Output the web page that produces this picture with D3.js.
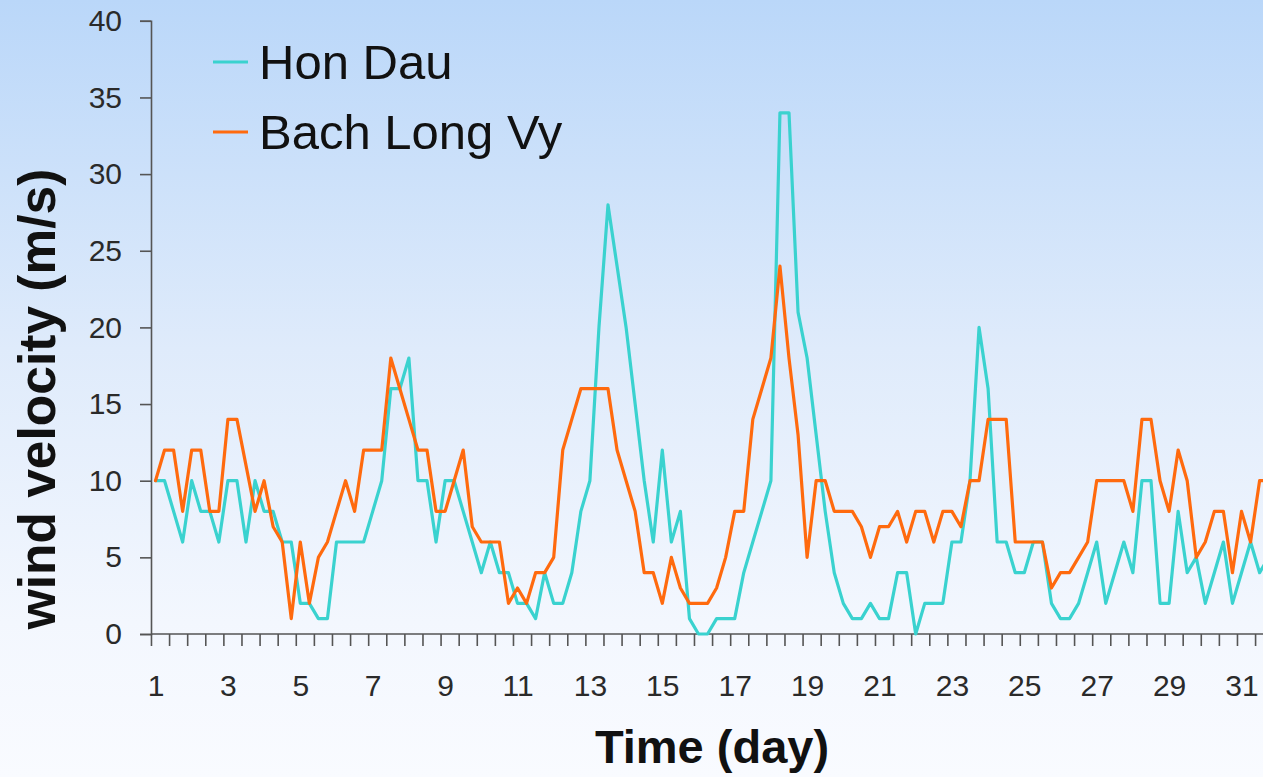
<!DOCTYPE html>
<html>
<head>
<meta charset="utf-8">
<script src="https://cdn.jsdelivr.net/npm/d3@7"></script>
<style>
  html, body { margin: 0; padding: 0; background: #ffffff; }
  svg { display: block; }
  text { font-family: "Liberation Sans", Arial, sans-serif; }
</style>
</head>
<body>
<svg id="chart" width="1263" height="777"></svg>
<script>
// ---- data (6-hourly samples, 4 per day, starting day 1) ----
const seriesNames = ["Hon Dau", "Bach Long Vy"];
const seriesColors = ["#3ad2cf", "#ff6a0e"];

const honDau = [
  10,10,8,6, 10,8,8,6, 10,10,6,10, 8,8,6,6,
  2,2,1,1, 6,6,6,6, 8,10,16,16, 18,10,10,6,
  10,10,8,6, 4,6,4,4, 2,2,1,4, 2,2,4,8,
  10,20,28,24, 20,15,10,6, 12,6,8,1, 0,0,1,1,
  1,4,6,8, 10,34,34,21, 18,13,8,4, 2,1,1,2,
  1,1,4,4, 0,2,2,2, 6,6,10,20, 16,6,6,4,
  4,6,6,2, 1,1,2,4, 6,2,4,6, 4,10,10,2,
  2,8,4,5, 2,4,6,2, 4,6,4,5
];

const bachLongVy = [
  10,12,12,8, 12,12,8,8, 14,14,11,8, 10,7,6,1,
  6,2,5,6, 8,10,8,12, 12,12,18,16, 14,12,12,8,
  8,10,12,7, 6,6,6,2, 3,2,4,4, 5,12,14,16,
  16,16,16,12, 10,8,4,4, 2,5,3,2, 2,2,3,5,
  8,8,14,16, 18,24,18,13, 5,10,10,8, 8,8,7,5,
  7,7,8,6, 8,8,6,8, 8,7,10,10, 14,14,14,6,
  6,6,6,3, 4,4,5,6, 10,10,10,10, 8,14,14,10,
  8,12,10,5, 6,8,8,4, 8,6,10,10
];

const xTickLabels = [1,3,5,7,9,11,13,15,17,19,21,23,25,27,29,31];
const yTickValues = [0,5,10,15,20,25,30,35,40];
const samplesPerDay = 4;

// ---- layout ----
const W = 1263, H = 777;
const svg = d3.select("#chart");

const defs = svg.append("defs");
const grad = defs.append("linearGradient").attr("id", "bg")
  .attr("x1", 0).attr("y1", 0).attr("x2", 0).attr("y2", 1);
grad.append("stop").attr("offset", "0%").attr("stop-color", "#bad7f9");
grad.append("stop").attr("offset", "45%").attr("stop-color", "#dfebfb");
grad.append("stop").attr("offset", "80%").attr("stop-color", "#f3f7fe");
grad.append("stop").attr("offset", "100%").attr("stop-color", "#f9fbff");
svg.append("rect").attr("width", W).attr("height", H).attr("fill", "url(#bg)");

const axisX0 = 151;             // y-axis position
const y = d3.scaleLinear().domain([0, 40]).range([634, 20.8]);
// x: day value -> pixel
const x = d3.scaleLinear().domain([1, 31]).range([155.5, 155.5 + 120 * 9.05]);
const dayOf = i => 1 + i / samplesPerDay;

// ---- axes ----
const axisColor = "#555555";
const gAxes = svg.append("g");

// y axis
const yAxis = d3.axisLeft(y).tickValues(yTickValues).tickSize(11).tickPadding(18);
const gy = gAxes.append("g").attr("transform", `translate(${axisX0},0)`).call(yAxis);
gy.select(".domain").attr("stroke", axisColor).attr("stroke-width", 1.6);
gy.selectAll(".tick line").attr("stroke", axisColor).attr("stroke-width", 1.6);
gy.selectAll(".tick text")
  .attr("font-size", 30).attr("fill", "#2a2a2a")
  .attr("font-family", '"Liberation Sans", Arial, sans-serif');

// x axis line + minor ticks (every 2 samples, between samples)
const nSamples = honDau.length;
const tickDays = d3.range(-0.5, nSamples + 1, 2).map(dayOf).filter(d => x(d) <= W && x(d) >= axisX0 - 1);
const xAxisTicks = d3.axisBottom(x).tickValues(tickDays).tickSize(12).tickFormat("");
const gx = gAxes.append("g").attr("transform", `translate(0,${y(0)})`).call(xAxisTicks);
gx.select(".domain").remove();
gx.selectAll(".tick line").attr("stroke", axisColor).attr("stroke-width", 1.6);
gAxes.append("line")
  .attr("x1", axisX0).attr("x2", W).attr("y1", y(0)).attr("y2", y(0))
  .attr("stroke", axisColor).attr("stroke-width", 1.6);

// x tick labels
const xLabelAxis = d3.axisBottom(x).tickValues(xTickLabels).tickSize(0).tickPadding(41).tickFormat(d3.format("d"));
const gxl = gAxes.append("g").attr("transform", `translate(0,${y(0)})`).call(xLabelAxis);
gxl.select(".domain").remove();
gxl.selectAll(".tick text")
  .attr("font-size", 30).attr("fill", "#2a2a2a")
  .attr("font-family", '"Liberation Sans", Arial, sans-serif');

// ---- lines ----
const line = d3.line()
  .x((d, i) => x(dayOf(i)))
  .y(d => y(d));

const plot = svg.append("g");
[honDau, bachLongVy].forEach((s, k) => {
  plot.append("path")
    .datum(s)
    .attr("d", line)
    .attr("fill", "none")
    .attr("stroke", seriesColors[k])
    .attr("stroke-width", 3.2)
    .attr("stroke-linejoin", "round")
    .attr("stroke-linecap", "round");
});

// ---- titles ----
svg.append("text")
  .attr("transform", "translate(55,399) rotate(-90)")
  .attr("text-anchor", "middle")
  .attr("font-size", 51.5).attr("font-weight", "bold").attr("fill", "#111")
  .text("wind velocity (m/s)");

svg.append("text")
  .attr("x", 712).attr("y", 763)
  .attr("text-anchor", "middle")
  .attr("font-size", 47).attr("font-weight", "bold").attr("fill", "#111")
  .text("Time (day)");

// ---- legend ----
const legend = svg.append("g");
const legendY = [62, 132];
seriesNames.forEach((name, k) => {
  legend.append("line")
    .attr("x1", 213).attr("x2", 248)
    .attr("y1", legendY[k]).attr("y2", legendY[k])
    .attr("stroke", seriesColors[k]).attr("stroke-width", 3.2);
  legend.append("text")
    .attr("x", 259).attr("y", legendY[k] + 17)
    .attr("font-size", 49).attr("fill", "#111")
    .text(name);
});
</script>
</body>
</html>
